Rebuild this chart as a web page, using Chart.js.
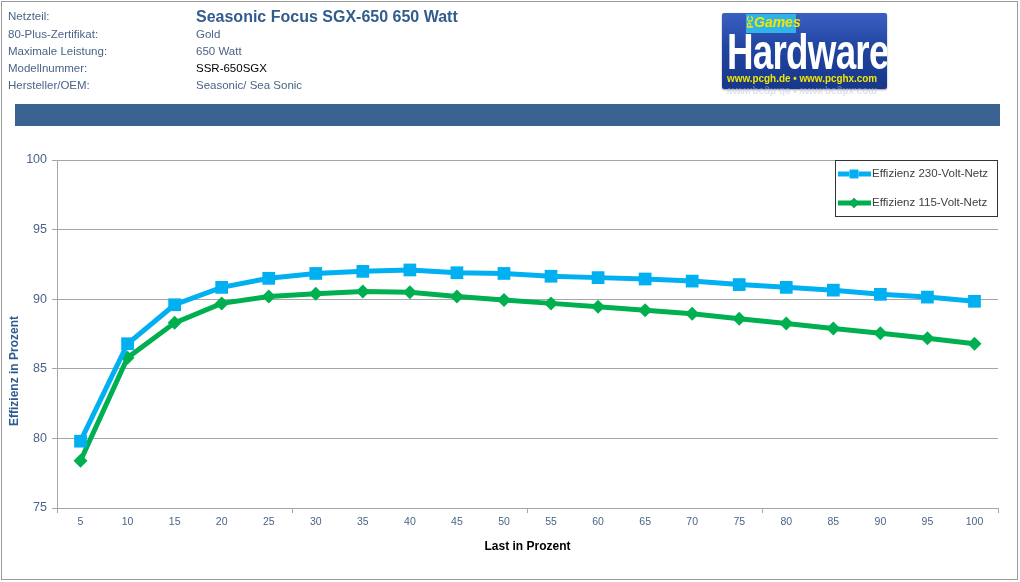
<!DOCTYPE html>
<html><head><meta charset="utf-8">
<script src="https://cdn.jsdelivr.net/npm/chart.js@4/dist/chart.umd.min.js"></script>
<style>
html,body{margin:0;padding:0;background:#fff;}
#wrap{position:relative;width:1020px;height:582px;overflow:hidden;background:#fff;}
#frame{position:absolute;left:1px;top:1px;width:1015px;height:577px;border:1px solid #9a9a9a;}
.hl{position:absolute;left:8px;font:11.5px "Liberation Sans",Arial,sans-serif;color:#4a6488;}
.hv{position:absolute;left:196px;font:11.5px "Liberation Sans",Arial,sans-serif;color:#4a6488;}
#title{position:absolute;left:196px;top:8px;font:bold 16px "Liberation Sans Narrow","Liberation Sans",sans-serif;color:#325c8c;white-space:nowrap;}
#bar{position:absolute;left:15px;top:104px;width:985px;height:22px;background:#3a6391;}
#logo{position:absolute;left:722px;top:13px;width:165px;height:76px;background:linear-gradient(180deg,#3a60c4 0%,#21449f 45%,#17378c 100%);border-radius:2px;overflow:hidden;box-shadow:0 1px 2px rgba(0,0,0,.4);}
#pc{position:absolute;left:24px;top:1px;width:50px;height:19px;background:#2fb3ea;}
#games{position:absolute;left:32px;top:1px;font:italic bold 14px "Liberation Sans Narrow",sans-serif;color:#f2e600;}
#pcl{position:absolute;left:22px;top:4px;font:bold 9px "Liberation Sans",sans-serif;color:#f2e600;transform:rotate(-90deg);}
#hw{position:absolute;left:5px;top:10px;font:bold 50px "Liberation Sans Narrow",sans-serif;color:#fff;letter-spacing:-1px;transform-origin:0 0;transform:scaleX(0.735);white-space:nowrap;}
#url{position:absolute;left:5px;top:59px;font:bold 11px "Liberation Sans",sans-serif;color:#f2e600;white-space:nowrap;transform-origin:0 0;transform:scaleX(0.9);}
#refl{position:absolute;left:727px;top:86px;font:bold 11px "Liberation Sans",sans-serif;color:#b9c3dc;white-space:nowrap;transform-origin:0 50%;transform:scale(0.9,-1);opacity:.45;}
canvas{position:absolute;left:0;top:0;}
</style></head>
<body>
<div id="wrap">
<canvas id="c" width="1020" height="582"></canvas>
<div id="frame"></div>
<div class="hl" style="top:10px">Netzteil:</div>
<div class="hl" style="top:28px">80-Plus-Zertifikat:</div>
<div class="hl" style="top:45px">Maximale Leistung:</div>
<div class="hl" style="top:62px">Modellnummer:</div>
<div class="hl" style="top:79px">Hersteller/OEM:</div>
<div id="title">Seasonic Focus SGX-650 650 Watt</div>
<div class="hv" style="top:28px">Gold</div>
<div class="hv" style="top:45px">650 Watt</div>
<div class="hv" style="top:62px;color:#000">SSR-650SGX</div>
<div class="hv" style="top:79px">Seasonic/ Sea Sonic</div>
<div id="logo">
  <div id="pc"></div>
  <div id="pcl">PC</div>
  <div id="games">Games</div>
  <div id="hw">Hardware</div>
  <div id="url">www.pcgh.de • www.pcghx.com</div>
</div>
<div id="refl">www.pcgh.de • www.pcghx.com</div>
<div id="bar"></div>
</div>
<script>
const loadPct = [5,10,15,20,25,30,35,40,45,50,55,60,65,70,75,80,85,90,95,100];
const eff230 = [79.8,86.8,89.6,90.85,91.5,91.85,92.0,92.1,91.9,91.85,91.65,91.55,91.45,91.3,91.05,90.85,90.65,90.35,90.15,89.85];
const eff115 = [78.4,85.8,88.3,89.7,90.2,90.4,90.55,90.5,90.2,89.95,89.7,89.45,89.2,88.95,88.6,88.25,87.9,87.55,87.2,86.8];
const yTicks = [75,80,85,90,95,100];
const seriesNames = ['Effizienz 230-Volt-Netz','Effizienz 115-Volt-Netz'];
const xTitle = 'Last in Prozent';
const yTitle = 'Effizienz in Prozent';

const gridGray = '#a6a6a6';
const tickBlue = '#4a6488';

const legendPlugin = {
  id: 'boxLegend',
  afterDraw(chart) {
    const ctx = chart.ctx, a = chart.chartArea;
    const w = 162, h = 56;
    const left = a.right - w - 1, top = a.top;
    ctx.save();
    ctx.fillStyle = '#fff';
    ctx.fillRect(left, top, w, h);
    ctx.strokeStyle = '#333';
    ctx.lineWidth = 1;
    ctx.strokeRect(left + 0.5, top + 0.5, w, h);
    chart.data.datasets.forEach((ds, i) => {
      const y = top + 14 + i * 29;
      ctx.strokeStyle = ds.borderColor;
      ctx.lineWidth = ds.borderWidth;
      ctx.beginPath();
      ctx.moveTo(left + 3, y);
      ctx.lineTo(left + 36, y);
      ctx.stroke();
      Chart.helpers.drawPoint(ctx, {pointStyle: ds.pointStyle, radius: ds.pointRadius * 0.7, borderWidth: 0}, left + 19, y);
      ctx.fillStyle = ds.backgroundColor;
      ctx.fill();
      ctx.fillStyle = '#404040';
      ctx.font = '11.5px "Liberation Sans", Arial, sans-serif';
      ctx.textBaseline = 'middle';
      ctx.fillText(ds.label, left + 37, y);
    });
    ctx.save();
    ctx.translate(15, 371);
    ctx.rotate(-Math.PI / 2);
    ctx.fillStyle = '#2f5a8f';
    ctx.font = 'bold 12px "Liberation Sans Narrow", "Liberation Sans", sans-serif';
    ctx.textAlign = 'center';
    ctx.textBaseline = 'middle';
    ctx.fillText(yTitle, 0, 0);
    ctx.restore();
    ctx.restore();
  }
};

new Chart(document.getElementById('c'), {
  type: 'line',
  data: {
    labels: loadPct.map(String),
    datasets: [
      {label: seriesNames[0], data: eff230, borderColor: '#00b0f0', backgroundColor: '#00b0f0',
       borderWidth: 5, pointStyle: 'rect', pointRadius: 9, pointHoverRadius: 9, pointBorderWidth: 0, tension: 0},
      {label: seriesNames[1], data: eff115, borderColor: '#00b050', backgroundColor: '#00b050',
       borderWidth: 5, pointStyle: 'rectRot', pointRadius: 7, pointHoverRadius: 7, pointBorderWidth: 0, tension: 0}
    ]
  },
  options: {
    responsive: false,
    animation: false,
    devicePixelRatio: 1,
    layout: {padding: {left: 0, top: 160, right: 22, bottom: 0}},
    plugins: {legend: {display: false}, tooltip: {enabled: false}},
    scales: {
      x: {
        offset: true,
        afterFit(s) { s.height = 74; },
        grid: {
          offset: true,
          drawOnChartArea: false,
          tickLength: 5,
          tickColor: (c) => (c.index === undefined || c.index % 5 === 0) ? gridGray : 'rgba(0,0,0,0)',
          color: gridGray
        },
        border: {color: gridGray, width: 1},
        ticks: {
          autoSkip: false, maxRotation: 0, padding: 3,
          color: tickBlue,
          font: {family: '"Liberation Sans Narrow", "Liberation Sans", sans-serif', size: 10.5}
        },
        title: {
          display: true, text: xTitle, color: '#000',
          font: {family: '"Liberation Sans Narrow", "Liberation Sans", sans-serif', size: 12, weight: 'bold'},
          padding: {top: 0, bottom: 28}
        }
      },
      y: {
        min: 75, max: 100,
        afterFit(s) { s.width = 57; },
        afterBuildTicks(s) { s.ticks = yTicks.map(v => ({value: v})); },
        grid: {color: gridGray, tickLength: 5, tickColor: gridGray},
        border: {color: gridGray, width: 1},
        ticks: {
          padding: 5, color: tickBlue,
          font: {family: '"Liberation Sans", Arial, sans-serif', size: 12.5}
        }
      }
    }
  },
  plugins: [legendPlugin]
});
</script>
</body></html>
